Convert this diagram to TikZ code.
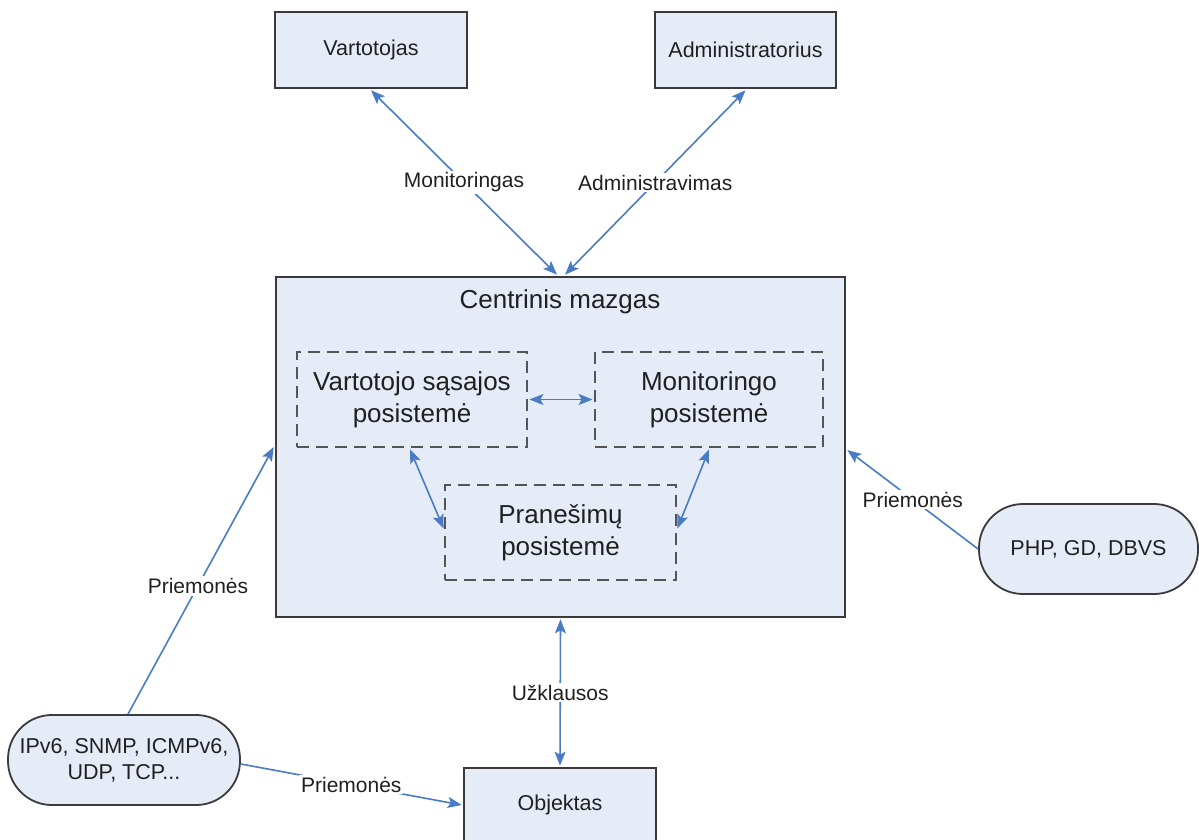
\documentclass[tikz,border=0pt]{standalone}
\usepackage{fontspec}
\setmainfont{Liberation Sans}
\usetikzlibrary{arrows.meta,calc}
\definecolor{boxfill}{HTML}{E6ECF7}
\definecolor{boxline}{HTML}{3A3A3A}
\definecolor{dashline}{HTML}{555555}
\definecolor{linkblue}{HTML}{4A7CC6}
\definecolor{txt}{HTML}{202020}
\begin{document}
\begin{tikzpicture}[x=1pt,y=-1pt,
  tip/.tip={Stealth[length=14pt,width=11pt,inset=3pt]},
  solidbox/.style={draw=boxline,line width=2.6pt,fill=boxfill,rectangle,inner sep=0pt,
    font=\fontsize{21.5}{24}\selectfont,text=txt},
  subbox/.style={draw=dashline,line width=2.8pt,dash pattern=on 12pt off 7pt,rectangle,
    inner sep=0pt,align=center,font=\fontsize{26}{32}\selectfont,text=txt},
  pill/.style={draw=boxline,line width=1.8pt,fill=boxfill,rectangle,rounded corners=44pt,
    inner sep=0pt,align=center,font=\fontsize{21.5}{26}\selectfont,text=txt},
  link/.style={draw=linkblue,line width=1.6pt,-tip},
  dlink/.style={draw=linkblue,line width=1.6pt,tip-tip},
  lbl/.style={fill=white,inner sep=2pt,text=txt,font=\fontsize{21}{24}\selectfont}]
\useasboundingbox[fill=white] (0,0) rectangle (1199,840);

% top actors
\node[solidbox,minimum width=192pt,minimum height=76pt] (vart) at (371,50) {Vartotojas};
\node[solidbox,minimum width=181pt,minimum height=76pt] (adm) at (745.5,50) {Administratorius};

% central node with its subsystems
\node[solidbox,minimum width=569pt,minimum height=340pt] (cen) at (560.5,447) {};
\node[text=txt,font=\fontsize{26}{30}\selectfont] (centitle) at (560,302) {Centrinis mazgas};
\node[subbox,minimum width=230pt,minimum height=95pt] (vs) at (412,399.5) {Vartotojo sąsajos\\posistemė};
\node[subbox,minimum width=228pt,minimum height=95pt] (mp) at (709,399.5) {Monitoringo\\posistemė};
\node[subbox,minimum width=231pt,minimum height=95pt] (pr) at (560.5,532.5) {Pranešimų\\posistemė};

% tools and the monitored object
\node[pill,minimum width=232pt,minimum height=90pt] (ls) at (124,760) {IPv6, SNMP, ICMPv6,\\UDP, TCP...};
\node[pill,minimum width=219pt,minimum height=90pt] (rs) at (1088.5,549) {PHP, GD, DBVS};
\node[solidbox,minimum width=192pt,minimum height=84pt] (obj) at (560,810) {};
\node[text=txt,font=\fontsize{21.5}{24}\selectfont] (objtxt) at (560,805) {Objektas};

% connectors
\draw[dlink] ($(cen.north)+(-3.5,-1)$) -- node[lbl] {Monitoringas} ($(vart.south)+(0,1)$);
\draw[dlink] ($(cen.north)+(4.5,-1)$) -- node[lbl] {Administravimas} ($(adm.south)+(0,1)$);
\draw[dlink] ($(vs.east)+(1,0)$) -- ($(mp.west)+(-1,0)$);
\draw[dlink] ($(vs.south)+(-2,1)$) -- ($(pr.west)+(0,-4)$);
\draw[dlink] ($(mp.south)+(0,1)$) -- ($(pr.east)+(0,-4)$);
\draw[link] ($(ls.north)+(4,0)$) -- node[lbl,pos=0.48] {Priemonės} ($(cen.west)+(-1,0)$);
\draw[link] ($(ls.east)+(0,4)$) -- node[lbl] {Priemonės} ($(obj.west)+(-1,-5)$);
\draw[link] (rs.west) -- node[lbl] {Priemonės} ($(cen.east)+(1,3)$);
\draw[dlink] ($(cen.south)+(0,1)$) -- node[lbl] {Užklausos} ($(obj.north)+(0,-1)$);
\end{tikzpicture}
\end{document}
